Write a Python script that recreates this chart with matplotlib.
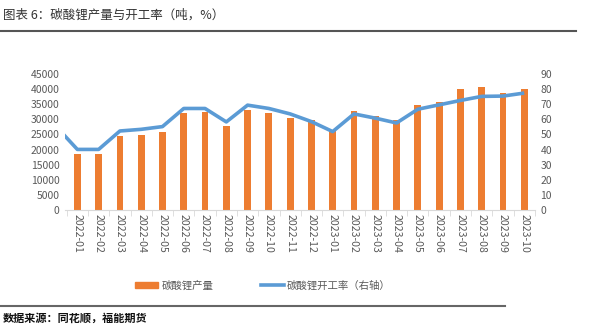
import matplotlib
matplotlib.use("Agg")
import matplotlib.pyplot as plt
import numpy as np
from matplotlib.lines import Line2D
from matplotlib.patches import Patch

plt.rcParams["font.family"] = ["Noto Sans CJK SC", "DejaVu Sans"]

months = ["2022-01", "2022-02", "2022-03", "2022-04", "2022-05", "2022-06",
          "2022-07", "2022-08", "2022-09", "2022-10", "2022-11", "2022-12",
          "2023-01", "2023-02", "2023-03", "2023-04", "2023-05", "2023-06",
          "2023-07", "2023-08", "2023-09", "2023-10"]
output_t = [18500, 18400, 24600, 24800, 25900, 32150, 32400, 27800, 33150, 32150,
            30500, 29800, 26500, 32900, 31250, 29800, 34600, 35700, 39900, 40600,
            38800, 40000]
# the rate line starts one month earlier (2021-12), clipped at the left edge
rate_prev = 55.3
rate_pct = [40.1, 40.1, 52.3, 53.4, 55.2, 67.2, 67.2, 58.3, 69.4, 67.2, 63.6, 58.5,
            51.9, 63.6, 60.8, 57.6, 66.7, 69.6, 72.5, 75.2, 75.4, 77.4]

ORANGE = "#ED7D31"
BLUE = "#5B9BD5"
GREY = "#595959"

fig = plt.figure(figsize=(5.91, 3.29), dpi=100)
ax = fig.add_axes([0.110, 0.3617, 0.795, 0.4133])
x = np.arange(len(months))
ax.bar(x, output_t, width=0.32, color=ORANGE, zorder=2)
ax.set_xlim(-0.5, len(months) - 0.5)
ax.set_ylim(0, 45000)
ax.set_yticks(range(0, 45001, 5000))
ax.set_xticks(x, months, rotation=270, fontsize=7.6, color=GREY)
ax.tick_params(axis="x", length=0, pad=3)
ax.set_xticks(np.arange(-0.5, len(months), 1.0), minor=True)
ax.tick_params(axis="x", which="minor", length=4, color="#D9D9D9")
ax.tick_params(axis="y", length=0, labelsize=7.5, labelcolor=GREY, pad=4)
for s in ("top", "right", "left"):
    ax.spines[s].set_visible(False)
ax.spines["bottom"].set_color("#D9D9D9")

ax2 = ax.twinx()
xr = np.concatenate([[-1], x])
ax2.plot(xr, [rate_prev] + rate_pct, color=BLUE, lw=2.6, solid_capstyle="butt", zorder=3)
ax2.set_xlim(-0.58, len(months) - 0.5)
ax2.set_ylim(0, 90)
ax2.set_yticks(range(0, 91, 10))
ax2.tick_params(axis="y", length=0, labelsize=7.5, labelcolor=GREY, pad=4)
for s in ("top", "right", "left", "bottom"):
    ax2.spines[s].set_visible(False)

fig.text(0.005, 0.955, "图表 6：碳酸锂产量与开工率（吨，%）", fontsize=9, color="#333333",
         va="center", ha="left")
fig.add_artist(Line2D([0.0, 0.975], [0.905, 0.905], color="#555555", lw=1.5))

handles = [Patch(color=ORANGE), Line2D([], [], color=BLUE, lw=2.6)]
fig.legend(handles, ["碳酸锂产量", "碳酸锂开工率（右轴）"], loc="center",
           bbox_to_anchor=(0.445, 0.132), ncol=2, frameon=False, fontsize=7.5,
           labelcolor=GREY, handlelength=2.2, handleheight=0.6, handletextpad=0.3,
           columnspacing=4.6)

fig.add_artist(Line2D([0.0, 0.855], [0.07, 0.07], color="#666666", lw=1.5))
fig.text(0.005, 0.033, "数据来源：同花顺，福能期货", fontsize=8, color="#111111",
         va="center", ha="left", fontweight="bold")

fig.savefig("out.png", dpi=100)
